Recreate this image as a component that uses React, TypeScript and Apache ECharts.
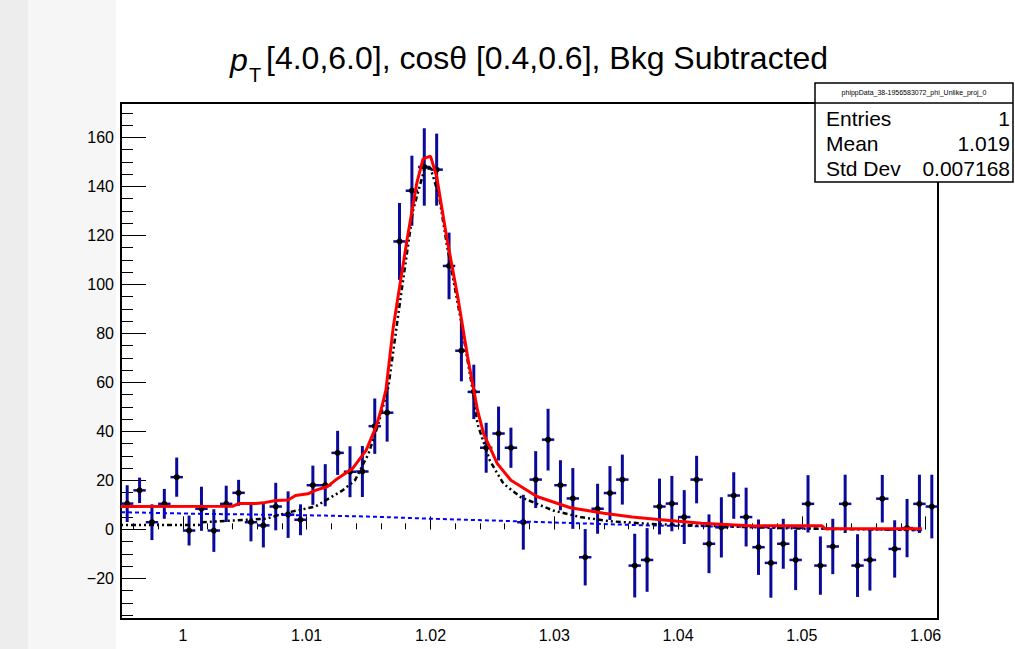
import React, { useEffect, useRef } from "react";
import * as echarts from "echarts";

// ---------- data ----------
const binCenters = [
  0.9955, 0.9965, 0.9975, 0.9985, 0.9995, 1.0005, 1.0015, 1.0025, 1.0035, 1.0045,
  1.0055, 1.0065, 1.0075, 1.0085, 1.0095, 1.0105, 1.0115, 1.0125, 1.0135, 1.0145,
  1.0155, 1.0165, 1.0175, 1.0185, 1.0195, 1.0205, 1.0215, 1.0225, 1.0235, 1.0245,
  1.0255, 1.0265, 1.0275, 1.0285, 1.0295, 1.0305, 1.0315, 1.0325, 1.0335, 1.0345,
  1.0355, 1.0365, 1.0375, 1.0385, 1.0395, 1.0405, 1.0415, 1.0425, 1.0435, 1.0445,
  1.0455, 1.0465, 1.0475, 1.0485, 1.0495, 1.0505, 1.0515, 1.0525, 1.0535, 1.0545,
  1.0555, 1.0565, 1.0575, 1.0585, 1.0595, 1.0605,
];
const counts = [
  10.5, 15.9, 2.9, 10.4, 21.3, -0.5, 8.4, -0.5, 10.4, 14.9,
  2.9, 1.6, 9.3, 6.0, 3.9, 18.0, 18.0, 31.2, 23.5, 23.6,
  42.1, 47.6, 117.5, 138.2, 147.9, 146.8, 107.5, 72.9, 56.1, 33.3,
  39.1, 33.3, 2.9, 20.3, 36.6, 18.0, 12.6, -11.4, 8.4, 14.8,
  20.3, -14.8, -12.5, 9.3, 10.5, 5.0, 20.3, -5.9, 0.8, 13.8,
  5.0, -7.3, -13.7, -5.9, -12.5, 10.4, -14.8, -7.0, 10.4, -14.8,
  -12.5, 12.5, -8.0, 0.5, 10.4, 9.3,
];
const errors = [
  7.5, 5.2, 7.3, 6.1, 8.0, 6.1, 9.0, 8.7, 7.4, 5.3,
  7.8, 9.0, 9.7, 9.5, 6.3, 8.0, 8.6, 9.0, 10.4, 10.4,
  11.3, 11.8, 15.7, 14.3, 15.8, 14.7, 13.6, 12.5, 11.1, 10.2,
  11.0, 8.2, 11.2, 11.6, 12.6, 10.2, 12.4, 11.5, 10.2, 11.0,
  10.2, 13.0, 13.0, 11.4, 11.3, 11.0, 9.7, 12.0, 12.3, 9.5,
  12.0, 11.3, 14.2, 10.2, 12.3, 11.7, 11.9, 11.3, 11.9, 12.8,
  12.5, 9.7, 11.7, 11.9, 11.9, 13.0,
];

// total fit (red)
const totalFitX = [
  0.995, 1.004, 1.0045, 1.0059, 1.0065, 1.0075, 1.0085, 1.0091, 1.0101, 1.0107,
  1.0117, 1.0123, 1.0137, 1.0148, 1.0156, 1.016, 1.0164, 1.017, 1.0181, 1.0189,
  1.0194, 1.02, 1.0205, 1.0213, 1.0222, 1.023, 1.0238, 1.0243, 1.0254, 1.0265,
  1.0286, 1.0313, 1.034, 1.0363, 1.0384, 1.0419, 1.0462, 1.0516, 1.0519, 1.0597,
];
const totalFitY = [
  9.3, 9.4, 10.5, 10.5, 10.8, 11.8, 12.0, 13.8, 14.5, 15.9,
  17.5, 20.0, 24.8, 32.2, 41.8, 48.6, 56.8, 82.7, 118.0, 141.4,
  151.2, 152.3, 144.0, 119.5, 95.0, 70.4, 48.6, 39.0, 26.8, 20.0,
  13.4, 8.8, 6.6, 5.0, 4.0, 2.5, 1.4, 1.5, 0.2, 0.2,
];
// signal component (black dash-dot)
const signalX = [
  0.995, 1.0013, 1.0015, 1.0067, 1.0086, 1.0107, 1.0129, 1.0139, 1.015, 1.0158,
  1.0166, 1.0176, 1.0186, 1.0195, 1.02, 1.0207, 1.0213, 1.0224, 1.0235, 1.0238,
  1.0248, 1.0259, 1.0273, 1.0286, 1.0299, 1.0321, 1.0345, 1.0378, 1.045, 1.05, 1.0597,
];
const signalY = [
  1.8, 1.8, 2.9, 4.3, 7.0, 9.3, 15.9, 20.0, 30.9, 43.2,
  58.1, 95.0, 130.4, 146.8, 147.5, 135.9, 116.8, 86.8, 54.0, 43.0,
  28.0, 18.6, 13.1, 10.4, 7.7, 5.0, 3.3, 2.2, 1.0, 0.3, -0.3,
];
// background component (blue dashed)
const bkgX = [0.995, 1.0015, 1.005, 1.0115, 1.015, 1.0202, 1.025, 1.0286, 1.035, 1.0375, 1.045, 1.054, 1.0597];
const bkgY = [7.0, 6.3, 6.1, 5.6, 5.2, 4.3, 3.6, 3.0, 2.0, 1.6, 1.0, 0.1, -0.4];

const yTickLabels = ["\u221220", "0", "20", "40", "60", "80", "100", "120", "140", "160"];
const xTickLabels = ["1", "1.01", "1.02", "1.03", "1.04", "1.05", "1.06"];

const statsTitle = "phippData_38-1956583072_phi_Unlike_proj_0";
const statsLabels = ["Entries", "Mean", "Std Dev"];
const statsValues = ["1", "1.019", "0.007168"];

const FONT = "'Liberation Sans', Arial, Helvetica, sans-serif";

export default function App() {
  const ref = useRef<HTMLDivElement>(null);

  useEffect(() => {
    if (!ref.current) return;
    const chart = echarts.init(ref.current, undefined, { renderer: "svg" });

    const barData = binCenters.map((x, i) => [x, counts[i], errors[i]]);
    const pair = (xs: number[], ys: number[]) => xs.map((x, i) => [x, ys[i]]);

    const xFmt = (v: number) => {
      const r = Math.round(v * 100) / 100;
      if (Math.abs(v - r) > 1e-6) return "";
      const s = r.toString();
      return xTickLabels.indexOf(s) >= 0 ? s : "";
    };
    const yFmt = (v: number) => {
      const r = Math.round(v);
      if (Math.abs(v - r) > 1e-6 || r % 20 !== 0) return "";
      const s = r < 0 ? "\u2212" + -r : String(r);
      return yTickLabels.indexOf(s) >= 0 ? s : "";
    };

    const statsRows: any[] = [];
    statsLabels.forEach((lab, i) => {
      const y = 118 + i * 25;
      statsRows.push({
        type: "text",
        x: 826,
        y,
        style: { text: lab, font: `21px ${FONT}`, fill: "#000", align: "left", verticalAlign: "middle" },
      });
      statsRows.push({
        type: "text",
        x: 1010,
        y,
        style: { text: statsValues[i], font: `21px ${FONT}`, fill: "#000", align: "right", verticalAlign: "middle" },
      });
    });

    chart.setOption({
      animation: false,
      backgroundColor: "#ffffff",
      grid: {
        left: 121,
        top: 103,
        width: 817,
        height: 516,
        show: true,
        borderColor: "#000",
        borderWidth: 2,
        backgroundColor: "#fff",
        containLabel: false,
      },
      xAxis: [
        {
          type: "value",
          min: 0.995,
          max: 1.061,
          splitNumber: 7,
          minInterval: 0.01,
          maxInterval: 0.01,
          axisLine: { show: false },
          axisTick: { show: true, inside: true, length: 13, lineStyle: { color: "#000", width: 1 } },
          axisLabel: {
            show: true,
            margin: 8,
            fontSize: 16,
            fontFamily: FONT,
            color: "#000",
            showMinLabel: false,
            showMaxLabel: false,
            formatter: xFmt,
          },
          splitLine: { show: false },
        },
        {
          type: "value",
          min: 0.995,
          max: 1.061,
          splitNumber: 33,
          minInterval: 0.002,
          maxInterval: 0.002,
          position: "bottom",
          axisLine: { show: false },
          axisTick: { show: true, inside: true, length: 6, lineStyle: { color: "#000", width: 1 } },
          axisLabel: { show: false },
          splitLine: { show: false },
        },
      ],
      yAxis: [
        {
          type: "value",
          min: -36.6,
          max: 174,
          splitNumber: 10,
          minInterval: 20,
          maxInterval: 20,
          axisLine: { show: false },
          axisTick: { show: true, inside: true, length: 25, lineStyle: { color: "#000", width: 1 } },
          axisLabel: {
            show: true,
            margin: 7,
            fontSize: 16,
            fontFamily: FONT,
            color: "#000",
            showMinLabel: false,
            showMaxLabel: false,
            formatter: yFmt,
          },
          splitLine: { show: false },
        },
        {
          type: "value",
          min: -36.6,
          max: 174,
          splitNumber: 42,
          minInterval: 5,
          maxInterval: 5,
          position: "left",
          axisLine: { show: false },
          axisTick: { show: true, inside: true, length: 12, lineStyle: { color: "#000", width: 1 } },
          axisLabel: { show: false },
          splitLine: { show: false },
        },
      ],
      series: [
        {
          type: "custom",
          xAxisIndex: 0,
          yAxisIndex: 0,
          clip: true,
          z: 2,
          dimensions: ["x", "y", "e"],
          encode: { x: 0, y: 1 },
          data: barData,
          renderItem: (params: any, api: any) => {
            const x = api.value(0);
            const y = api.value(1);
            const e = api.value(2);
            const c = api.coord([x, y]);
            const t = api.coord([x, y + e]);
            const b = api.coord([x, y - e]);
            const l = api.coord([x - 0.0005, y]);
            const r = api.coord([x + 0.0005, y]);
            return {
              type: "group",
              children: [
                {
                  type: "line",
                  shape: { x1: c[0], y1: t[1], x2: c[0], y2: b[1] },
                  style: { stroke: "#0a0a9a", lineWidth: 3 },
                },
                {
                  type: "line",
                  shape: { x1: l[0], y1: c[1], x2: r[0], y2: c[1] },
                  style: { stroke: "#0a0a9a", lineWidth: 2.5 },
                },
                {
                  type: "circle",
                  shape: { cx: c[0], cy: c[1], r: 3 },
                  style: { fill: "#000" },
                },
              ],
            };
          },
        },
        {
          type: "line",
          name: "bkg",
          xAxisIndex: 0,
          yAxisIndex: 0,
          showSymbol: false,
          z: 3,
          data: pair(bkgX, bkgY),
          lineStyle: { color: "#0000ff", width: 2, type: [4, 3] },
        },
        {
          type: "line",
          name: "signal",
          xAxisIndex: 0,
          yAxisIndex: 0,
          showSymbol: false,
          z: 4,
          data: pair(signalX, signalY),
          lineStyle: { color: "#000", width: 2.5, type: [2, 3, 2, 3, 5, 3] },
        },
        {
          type: "line",
          name: "total",
          xAxisIndex: 0,
          yAxisIndex: 0,
          showSymbol: false,
          z: 5,
          data: pair(totalFitX, totalFitY),
          lineStyle: { color: "#ff0000", width: 3 },
        },
      ],
      graphic: [
        { type: "rect", z: -10, shape: { x: 0, y: 0, width: 28, height: 649 }, style: { fill: "#ededed" } },
        { type: "rect", z: -10, shape: { x: 28, y: 0, width: 88, height: 649 }, style: { fill: "#f6f6f6" } },
        {
          type: "text",
          x: 230,
          y: 60,
          style: { text: "p", font: `italic 32px ${FONT}`, fill: "#000", verticalAlign: "middle" },
        },
        {
          type: "text",
          x: 249,
          y: 75,
          style: { text: "T", font: `20px ${FONT}`, fill: "#000", verticalAlign: "middle" },
        },
        {
          type: "text",
          x: 266,
          y: 58,
          style: {
            text: "[4.0,6.0], cos\u03b8 [0.4,0.6], Bkg Subtracted",
            font: `32px ${FONT}`,
            fill: "#000",
            verticalAlign: "middle",
          },
        },
        {
          type: "rect",
          z: 100,
          shape: { x: 815, y: 83, width: 198, height: 99 },
          style: { fill: "#fff", stroke: "#000", lineWidth: 1.5 },
        },
        {
          type: "line",
          z: 101,
          shape: { x1: 815, y1: 103, x2: 1013, y2: 103 },
          style: { stroke: "#000", lineWidth: 1.5 },
        },
        {
          type: "text",
          z: 101,
          x: 914,
          y: 92,
          style: { text: statsTitle, font: `7px ${FONT}`, fill: "#000", align: "center", verticalAlign: "middle" },
        },
        ...statsRows.map((r) => ({ ...r, z: 101 })),
      ],
    });

    return () => chart.dispose();
  }, []);

  return (
    <div
      ref={ref}
      style={{ position: "fixed", left: 0, top: 0, width: 1015, height: 649 }}
    />
  );
}
